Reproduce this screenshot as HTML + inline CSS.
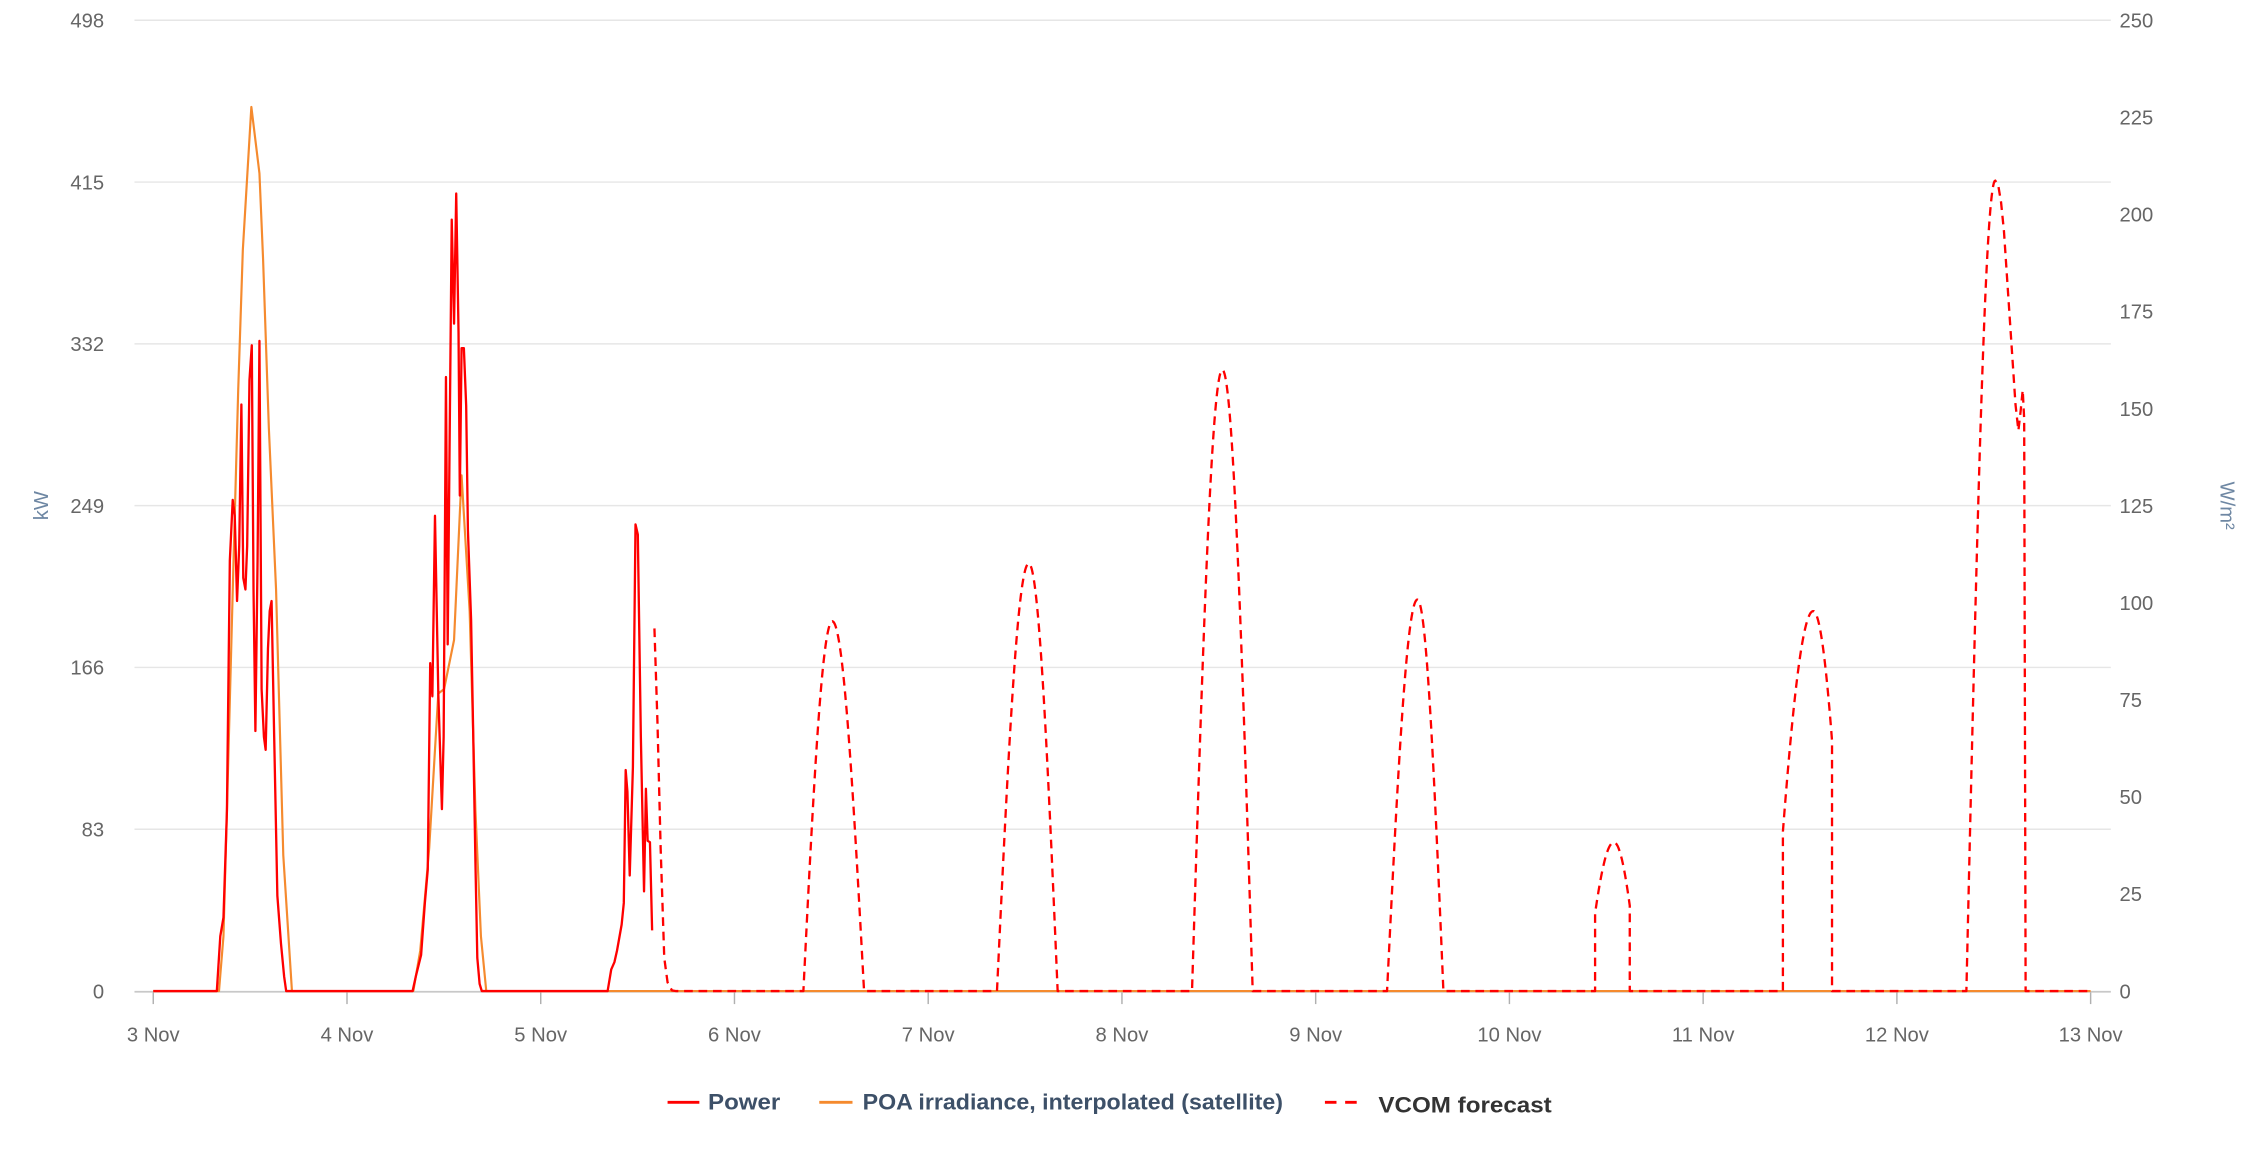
<!DOCTYPE html>
<html><head><meta charset="utf-8"><style>
html,body{margin:0;padding:0;background:#fff;}
svg{display:block;}
text{font-family:"Liberation Sans",sans-serif;}
</style></head><body>
<svg id="c" width="2254" height="1150" viewBox="0 0 1560 796" xmlns="http://www.w3.org/2000/svg">
<g stroke="#e6e6e6" stroke-width="1">
<line x1="93" x2="1461" y1="14" y2="14"/><line x1="93" x2="1461" y1="126" y2="126"/>
<line x1="93" x2="1461" y1="238" y2="238"/><line x1="93" x2="1461" y1="350" y2="350"/>
<line x1="93" x2="1461" y1="462" y2="462"/><line x1="93" x2="1461" y1="574" y2="574"/>
</g>
<line x1="93" x2="1461" y1="686.5" y2="686.5" stroke="#c8c8c8" stroke-width="1.2"/>
<g id="ticks" stroke="#b0b0b0" stroke-width="1"></g>
<g font-size="14" fill="#666" text-anchor="end">
<text x="72" y="19">498</text><text x="72" y="131">415</text><text x="72" y="243">332</text>
<text x="72" y="355">249</text><text x="72" y="467">166</text><text x="72" y="579">83</text><text x="72" y="691">0</text>
</g>
<g font-size="14" fill="#666" id="rl"></g>
<g font-size="14" fill="#666" text-anchor="middle" id="xl"></g>
<text x="33" y="350" font-size="14" fill="#6e87a3" text-anchor="middle" transform="rotate(-90 33 350)">kW</text>
<text x="1537" y="350" font-size="14" fill="#6e87a3" text-anchor="middle" transform="rotate(90 1537 350)">W/m²</text>
<path id="orange" fill="none" stroke="#f58a2e" stroke-width="1.5" stroke-linejoin="round"/>
<path id="power" fill="none" stroke="#ff0000" stroke-width="1.6" stroke-linejoin="round"/>
<path id="vcom" fill="none" stroke="#ff0000" stroke-width="1.6" stroke-dasharray="6,4" stroke-linejoin="round"/>
<line x1="462" x2="484" y1="763" y2="763" stroke="#ff0000" stroke-width="2"/>
<text x="490" y="768" font-size="15.5" font-weight="bold" fill="#3d5068" textLength="50" lengthAdjust="spacingAndGlyphs">Power</text>
<line x1="567" x2="590" y1="763" y2="763" stroke="#f58a2e" stroke-width="2"/>
<text x="597" y="768" font-size="15.5" font-weight="bold" fill="#3d5068" textLength="291" lengthAdjust="spacingAndGlyphs">POA irradiance, interpolated (satellite)</text>
<line x1="917" x2="940" y1="763" y2="763" stroke="#ff0000" stroke-width="2" stroke-dasharray="8,6"/>
<text x="954" y="770" font-size="15.5" font-weight="bold" fill="#333" textLength="120" lengthAdjust="spacingAndGlyphs">VCOM forecast</text>
</svg>
<script>
var NS="http://www.w3.org/2000/svg";
function el(p,t,a,txt){var e=document.createElementNS(NS,t);for(var k in a)e.setAttribute(k,a[k]);if(txt!=null)e.textContent=txt;document.getElementById(p).appendChild(e);}
var rv=[250,225,200,175,150,125,100,75,50,25,0];
for(var i=0;i<rv.length;i++)el("rl","text",{x:1467,y:19+i*67.2},rv[i]);
for(var d=0;d<=10;d++){var x=106+134.1*d;el("ticks","line",{x1:x,x2:x,y1:687,y2:695});el("xl","text",{x:x,y:721},(3+d)+" Nov");}
function P(a){return "M"+a.map(function(p){return p[0].toFixed(1)+","+p[1].toFixed(1)}).join(" L");}
var pw=[[106,686],[150,686],[152.4,648],[154.6,635],[157,561],[159,388],[161,346],[162.4,357],[164,416],[165.5,378],[167,280],[168.3,400],[169.8,408],[171,378],[172.6,263],[174.2,239],[175.4,408],[176.7,506],[178.2,388],[179.5,236],[181,477],[182.6,510],[183.8,519],[185.4,449],[186.6,423],[187.9,416],[189.7,510],[191.9,620],[194.4,653],[196.6,676],[198,686],
[285.5,686],[287.7,676],[291.4,661],[294,625],[296,602],[297.7,459],[299.2,482],[301,357],[303.3,480],[305.8,560],[307,510],[308.6,261],[309.8,446],[312.6,152],[314.2,224],[315.7,134],[317.3,230],[318.2,343],[319.4,241],[321,241],[322.6,281],[323.8,367],[326,429],[327.5,510],[329,597],[330.3,663],[331.9,681],[333.4,686],
[420.5,686],[423,671],[425.2,666],[427,658],[430.2,640],[431.7,625],[433,533],[434.2,548],[435.8,606],[438,531],[439.8,363],[441.4,370],[443.5,510],[445.7,617],[447,546],[448.2,582],[449.8,583],[451.3,644]];
document.getElementById("power").setAttribute("d",P(pw));
var or=[[106,686],[151.5,686],[154.6,648],[157,561],[161.7,383],[164.8,270],[168,173],[173.9,74],[179.5,120],[182,179],[186,296],[191,408],[196,592],[202,686],
[286,686],[290.8,658],[294,622],[297,587],[303.3,480],[307.3,477],[314.2,443],[319.4,329],[325,423],[329,561],[332.8,648],[336.5,686],[1447,686]];
document.getElementById("orange").setAttribute("d",P(or));
// VCOM
var v=[[452.9,435],[455,500],[457.2,587],[459.7,663],[462,680],[465,685.5],[468,686]];
function hump(a,p,b,yp,c0,c1,custom){
  var h=686-yp;var pts=[];
  var s=Math.max(a,c0),e=Math.min(b,c1);
  if(s>a)pts.push([s,686]);
  for(var x=s;x<=p;x+=0.5){var t=(x-a)/(p-a);pts.push([x,686-h*Math.sin(Math.PI/2*t)]);}
  if(custom){custom.forEach(function(q){pts.push(q)});return pts;}
  for(var x=p+0.5;x<=e;x+=0.5){var t=(b-x)/(b-p);pts.push([x,686-h*Math.sin(Math.PI/2*t)]);}
  if(e<b)pts.push([e,686]);
  return pts;
}
var hs=[[556,576,598,430],[690,712,732,390],[825,846,867,256],[960,981,999,415]];
hs.forEach(function(q){v.push([q[0],686]);v=v.concat(hump(q[0],q[1],q[2],q[3],-1e9,1e9));});
v.push([1104,686]);v=v.concat(hump(1097,1117,1135,583,1104,1128));
v.push([1234,686]);v=v.concat(hump(1226,1255,1279,423,1234,1268));
v.push([1361,686]);v=v.concat(hump(1361,1381,1400,125,-1e9,1e9,[[1383,128],[1385,140],[1387,160],[1389,190],[1391,220],[1393,250],[1395,280],[1397,298],[1398.5,285],[1400,270],[1401,290],[1402,686]]));
v.push([1447,686]);
document.getElementById("vcom").setAttribute("d",P(v));
</script>
</body></html>
